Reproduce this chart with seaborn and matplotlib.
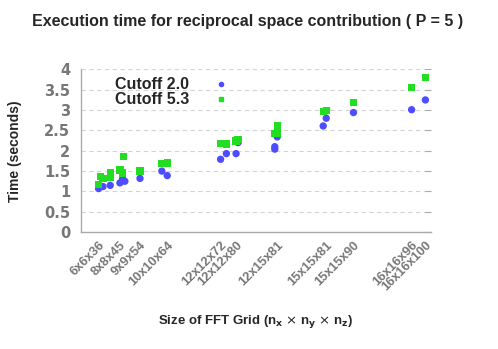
import numpy as np
import pandas as pd
import matplotlib
matplotlib.use("Agg")
import matplotlib.pyplot as plt
import seaborn as sns
from matplotlib.lines import Line2D

# grid sizes used as tick labels (x position = nx*ny*nz)
tick_labels = ["6x6x36", "8x8x45", "9x9x54", "10x10x64", "12x12x72", "12x12x80",
               "12x15x81", "15x15x81", "15x15x90", "16x16x96", "16x16x100"]
tick_pos = [6*6*36, 8*8*45, 9*9*54, 10*10*64, 12*12*72, 12*12*80,
            12*15*81, 15*15*81, 15*15*90, 16*16*96, 16*16*100]

# Cutoff 2.0 measurements
x_c20 = [1296, 1620, 2160, 2880, 3080, 3250, 4374, 6000, 6400, 10368, 10800,
         11520, 11664, 14400, 14400, 14580, 18000, 18225, 20250, 24576, 25600]
t_c20 = [1.07, 1.12, 1.15, 1.21, 1.31, 1.25, 1.32, 1.50, 1.39, 1.79, 1.93,
         1.93, 2.20, 2.10, 2.04, 2.34, 2.61, 2.80, 2.94, 3.01, 3.25]

# Cutoff 5.3 measurements
x_c53 = [1296, 1440, 1620, 2160, 2160, 2880, 3050, 3160, 4374, 6000, 6400,
         10368, 10800, 11520, 11664, 14400, 14580, 14580, 18000, 18225, 20250, 24576, 25600]
t_c53 = [1.17, 1.37, 1.31, 1.35, 1.45, 1.53, 1.45, 1.86, 1.50, 1.68, 1.70,
         2.18, 2.17, 2.24, 2.27, 2.42, 2.42, 2.61, 2.96, 2.99, 3.19, 3.55, 3.81]

df = pd.concat([
    pd.DataFrame({"grid": x_c20, "time": t_c20, "series": "Cutoff 2.0"}),
    pd.DataFrame({"grid": x_c53, "time": t_c53, "series": "Cutoff 5.3"}),
])

sns.set_style("white")
plt.rcParams['font.family'] = ['Liberation Sans', 'DejaVu Sans']

blue = "#4d4dff"
green = "#22dd22"
gray = "#777777"

fig = plt.figure(figsize=(4.98, 3.49), dpi=100)
ax = fig.add_axes([0.163, 0.335, 0.702, 0.466])

sns.scatterplot(data=df, x="grid", y="time", hue="series", style="series",
                palette={"Cutoff 2.0": blue, "Cutoff 5.3": green},
                markers={"Cutoff 2.0": "o", "Cutoff 5.3": "s"},
                s=28, linewidth=0, legend=False, ax=ax, zorder=3)

ax.set_xlim(0, 26000)
ax.set_ylim(0, 4)
ax.set_xticks(tick_pos)
ax.set_xticklabels(tick_labels, rotation=45, ha="right", rotation_mode="anchor",
                   fontsize=9.3, color=gray, fontweight="bold")
ax.set_yticks(np.arange(0, 4.01, 0.5))
ax.set_yticklabels(["0", "0.5", "1", "1.5", "2", "2.5", "3", "3.5", "4"],
                   fontsize=10.5, color=gray, fontweight="bold", family="DejaVu Sans")
ax.tick_params(axis="y", direction="in", length=4, color="#aaaaaa", right=True, pad=8)
ax.tick_params(axis="x", direction="in", length=4, color="#aaaaaa", pad=5)

ax.yaxis.grid(True, linestyle=(0, (4, 3)), color="#d4d4d4", linewidth=0.8)
ax.xaxis.grid(False)
for side in ["top", "right"]:
    ax.spines[side].set_visible(False)
for side in ["left", "bottom"]:
    ax.spines[side].set_color("#aaaaaa")
    ax.spines[side].set_linewidth(1.0)

ax.set_xlabel(r"Size of FFT Grid (n$_\mathbf{x}$ $\times$ n$_\mathbf{y}$ $\times$ n$_\mathbf{z}$)",
              fontsize=9.5, fontweight="bold")
ax.xaxis.set_label_coords(0.5, -0.50)
ax.set_ylabel("Time (seconds)", fontsize=10, fontweight="bold")
ax.yaxis.set_label_coords(-0.17, 0.5)
fig.suptitle("Execution time for reciprocal space contribution ( P = 5 )",
             fontsize=11.5, fontweight="bold", x=0.497, y=0.96)

handles = [Line2D([], [], marker="o", color=blue, linestyle="", markersize=3),
           Line2D([], [], marker="s", color=green, linestyle="", markersize=3)]
leg = ax.legend(handles, ["Cutoff 2.0", "Cutoff 5.3"], loc="upper left",
                bbox_to_anchor=(0.056, 1.04), frameon=False, markerfirst=False,
                handlelength=1, handletextpad=1.5, labelspacing=0.0,
                prop={"weight": "bold", "size": 11.5})

fig.savefig("out.png", dpi=100)
